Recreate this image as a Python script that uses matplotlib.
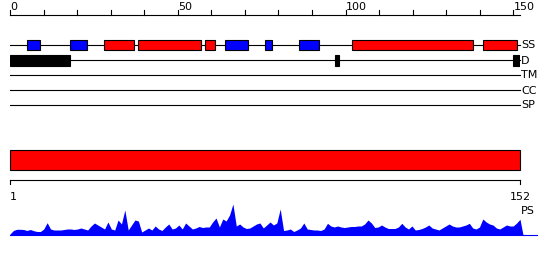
import matplotlib.pyplot as plt
from matplotlib.patches import Rectangle

seq_len = 152

# secondary structure: E = strand (blue), H = helix (red)
ss_start = [5, 18, 28, 38, 58, 64, 76, 86, 102, 141]
ss_end = [9, 23, 37, 57, 61, 71, 78, 92, 138, 151]
ss_type = ['E', 'E', 'H', 'H', 'H', 'E', 'E', 'E', 'H', 'H']

# disorder regions
dis_start = [0, 97, 150]
dis_end = [18, 98, 152]

track_names = ['SS', 'D', 'TM', 'CC', 'SP']
ruler_ticks = list(range(0, 151, 10))
ruler_labels = [0, 50, 100, 150]

# protein structure domain bar
ps_start = 1
ps_end = 152

# profile along the sequence (one value per residue)
profile = [1, 4.5, 5.7, 5.7, 5.5, 4.5, 5.5, 4.3, 3.5, 3.5,
           6, 12.3, 6, 5, 5, 5, 5.5, 6, 6, 5.5,
           6, 7, 6, 5, 9, 12, 10, 8, 6, 13,
           6, 5, 15, 11, 25, 5, 10, 15, 14, 3,
           5, 7, 5, 9, 6, 4.5, 8, 11, 6, 7,
           10, 6, 12, 9, 6, 7, 8.5, 7.5, 8, 8,
           13, 17, 8, 16, 14, 20, 31, 9, 11, 8,
           6.5, 7, 9, 11, 12, 7, 10, 13, 10, 12,
           26, 4.5, 5, 6, 3.5, 5, 7, 12, 6, 5.5,
           5, 5, 4.5, 6, 11.7, 9, 8, 9, 8, 7.5,
           8, 8.5, 8.5, 9, 9, 11, 15, 12, 7.5, 8,
           10, 8, 6.5, 6.5, 6.5, 8, 11.7, 8, 6, 9,
           5, 5.5, 6.5, 8, 10, 7, 6, 5, 7, 9,
           11, 9, 8, 8, 9, 10, 11.7, 7, 6, 8,
           16, 13, 11, 10, 7, 6, 8, 10, 9, 9,
           12, 15.7]
residues = list(range(1, seq_len + 1))

W, H = 550, 260
fig = plt.figure(figsize=(W / 100, H / 100), dpi=100)


def px_axes(x0, y0, x1, y1):
    ax = fig.add_axes([x0 / W, 1 - y1 / H, (x1 - x0) / W, (y1 - y0) / H])
    ax.set_axis_off()
    return ax


fs = 8
lw = 0.8

# ---- top: ruler + tracks
ax = px_axes(10, 0, 520, 115)
ax.set_xlim(0, seq_len)
ax.set_ylim(115, 0)

ax.plot([0, seq_len], [15, 15], color='black', lw=lw, clip_on=False)
for t in ruler_ticks:
    ax.plot([t, t], [10, 15], color='black', lw=lw, clip_on=False)
for t in ruler_labels:
    ax.text(t + 0.2, 10.5, str(t), ha='left', va='baseline', fontsize=fs, clip_on=False)

track_y = [45, 60, 75, 90, 105]
for name, y in zip(track_names, track_y):
    ax.plot([0, seq_len], [y, y], color='black', lw=lw, clip_on=False)
    ax.text(seq_len + 0.3, y + 3.5, name, ha='left', va='baseline', fontsize=fs, clip_on=False)

colors = {'H': '#ff0000', 'E': '#0000ff'}
for s, e, t in zip(ss_start, ss_end, ss_type):
    ax.add_patch(Rectangle((s, 40), e - s, 10, facecolor=colors[t], edgecolor='black', lw=lw, zorder=3))

for s, e in zip(dis_start, dis_end):
    ax.add_patch(Rectangle((s, 55), e - s, 11, facecolor='black', edgecolor='black', lw=lw, zorder=3))

# ---- bottom: domain bar + ruler
ax2 = px_axes(10, 140, 520, 260)
ax2.set_xlim(1, seq_len)
ax2.set_ylim(260, 140)
ax2.add_patch(Rectangle((ps_start, 150), ps_end - ps_start, 20, facecolor='#ff0000',
                        edgecolor='black', lw=lw, clip_on=False))
ax2.plot([1, seq_len], [180, 180], color='black', lw=lw, clip_on=False)
for t in [1, seq_len]:
    ax2.plot([t, t], [180, 184], color='black', lw=lw, clip_on=False)
ax2.text(1, 200, '1', ha='left', va='baseline', fontsize=fs, clip_on=False)
ax2.text(seq_len, 200, str(seq_len), ha='center', va='baseline', fontsize=fs, clip_on=False)
ax2.text(seq_len + 0.4, 214, 'PS', ha='left', va='baseline', fontsize=fs, clip_on=False)

# ---- profile
ax3 = px_axes(10, 195, 520, 235)
ax3.set_xlim(1, seq_len)
ax3.set_ylim(0, 40)
xs = residues + [seq_len + 0.9]
ys = profile + [0]
ax3.fill_between(xs, ys, 0, color='#0000ff', lw=0, clip_on=False)
ax3.plot([1, seq_len + 5], [0, 0], color='#0000ff', lw=lw, clip_on=False)

fig.savefig('out.png', dpi=100)
